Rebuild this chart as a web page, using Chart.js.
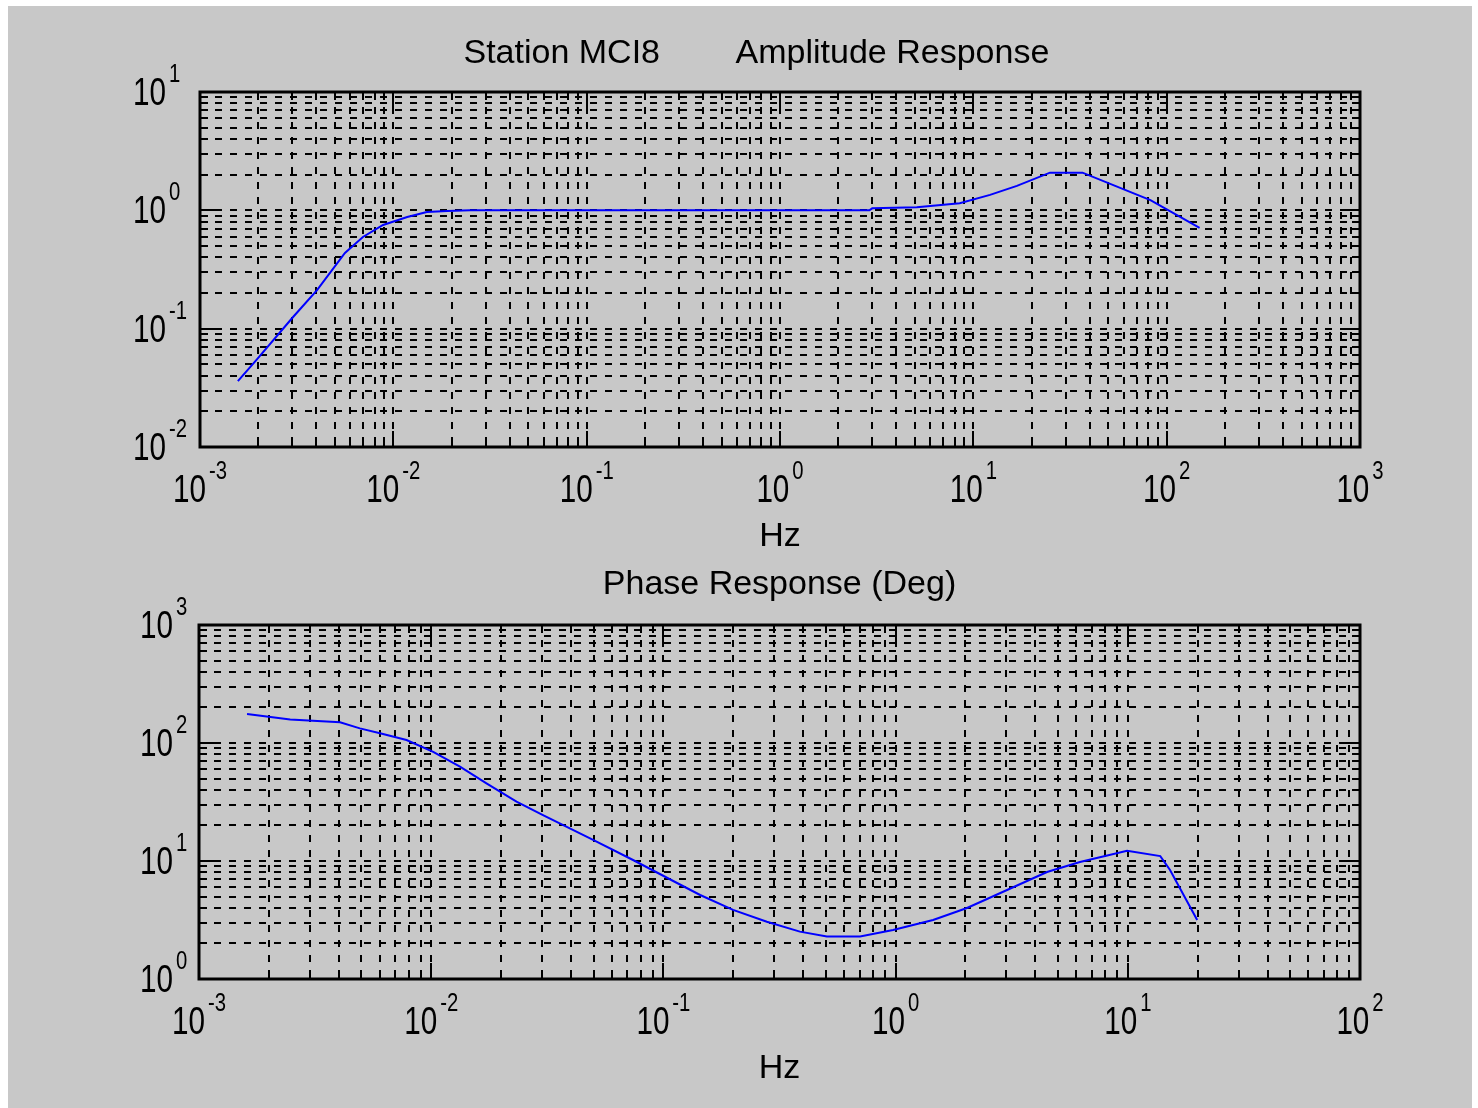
<!DOCTYPE html>
<html>
<head>
<meta charset="utf-8">
<title>Station MCI8 response</title>
<script src="https://cdn.jsdelivr.net/npm/chart.js@4/dist/chart.umd.min.js"></script>
<style>
  html, body { margin: 0; padding: 0; background: #fff; }
  body { position: relative; width: 1478px; height: 1108px; overflow: hidden; }
  #fig { position: absolute; left: 8px; top: 6px; width: 1464px; height: 1102px; background: #c8c8c8; }
  canvas { position: absolute; left: 0; }
  #ampCanvas { top: 0; }
  #phaseCanvas { top: 560px; }
</style>
</head>
<body>
<div id="fig"></div>
<canvas id="ampCanvas" width="1478" height="560"></canvas>
<canvas id="phaseCanvas" width="1478" height="548"></canvas>
<script>
// ── Data ──────────────────────────────────────
const AMP_FREQ  = [0.00157, 0.00197, 0.00303, 0.00403, 0.00562, 0.00696, 0.00885, 0.0118, 0.0149, 0.019,
                   0.025, 0.5, 2.9, 3.0, 5.1, 8.5, 12.2, 16.8, 24.9, 36.7, 82.4, 148];
const AMP_VALUE = [0.036, 0.055, 0.1255, 0.212, 0.436, 0.595, 0.752, 0.879, 0.968, 0.985,
                   1.0, 1.0, 1.0, 1.04, 1.06, 1.15, 1.35, 1.61, 2.08, 2.08, 1.22, 0.71];

const PHASE_FREQ  = [0.00161, 0.00247, 0.00405, 0.00493, 0.00602, 0.00783, 0.0102, 0.0133, 0.0173, 0.0233,
                     0.0303, 0.0498, 0.074, 0.1145, 0.144, 0.1995, 0.279, 0.387, 0.506, 0.703,
                     0.975, 1.45, 2.03, 3.02, 4.49, 6.22, 9.93, 13.8, 15.2, 19.9];
const PHASE_VALUE = [176, 158, 150, 133, 121, 106, 84, 63, 45.5, 31.8,
                     24.5, 15.1, 10.2, 6.51, 5.15, 3.85, 3.06, 2.52, 2.29, 2.29,
                     2.6, 3.16, 4.0, 5.68, 8.07, 9.8, 12.2, 11.0, 8.4, 3.16];

// tick labels are powers of ten, kept as their exponents
const AMP_X_EXP   = ['-3', '-2', '-1', '0', '1', '2', '3'];
const AMP_Y_EXP   = ['-2', '-1', '0', '1'];
const PHASE_X_EXP = ['-3', '-2', '-1', '0', '1', '2'];
const PHASE_Y_EXP = ['0', '1', '2', '3'];

const AMP_TITLE   = 'Station MCI8        Amplitude Response     ';
const PHASE_TITLE = 'Phase Response (Deg)';
const X_LABEL     = 'Hz';

// ── Style ─────────────────────────────────────
const FONT = '"Liberation Sans", Arial, sans-serif';
const TEXT_PX = 34;
const BASE_PX = 38;
const EXP_PX = 26;
const SQUEEZE = 0.78;   // the old bitmap digits are narrow
const LINE_BLUE = '#0000ff';

// ── Helpers ───────────────────────────────────
function toPoints(xs, ys) {
  return xs.map((x, i) => ({ x, y: ys[i] }));
}

// major + minor (2..9) ticks for every decade
function logTicks(exps) {
  const out = [];
  for (let i = 0; i < exps.length - 1; i++) {
    const p = Math.pow(10, Number(exps[i]));
    for (let m = 1; m <= 9; m++) out.push({ value: m * p, major: m === 1 });
  }
  out.push({ value: Math.pow(10, Number(exps[exps.length - 1])), major: true });
  return out;
}

function pow10Width(ctx, exp) {
  ctx.font = `${BASE_PX}px ${FONT}`;
  const wb = ctx.measureText('10').width * SQUEEZE;
  ctx.font = `${EXP_PX}px ${FONT}`;
  const we = ctx.measureText(exp).width * SQUEEZE;
  return { wb, we };
}

function squeezedText(ctx, txt, x, y) {
  ctx.save();
  ctx.translate(x, y);
  ctx.scale(SQUEEZE, 1);
  ctx.fillText(txt, 0, 0);
  ctx.restore();
}

function drawPow10(ctx, exp, left, baseline) {
  const { wb } = pow10Width(ctx, exp);
  ctx.font = `${BASE_PX}px ${FONT}`;
  squeezedText(ctx, '10', left, baseline);
  ctx.font = `${EXP_PX}px ${FONT}`;
  squeezedText(ctx, exp, left + wb + 3, baseline - 23);
}

// ── Box, inner ticks and 10^n labels ──────────
const matlabAxes = {
  id: 'matlabAxes',
  afterDraw(chart, args, opts) {
    const { ctx, chartArea: a } = chart;
    const xs = chart.scales.x;
    const ys = chart.scales.y;
    ctx.save();
    ctx.strokeStyle = '#000';
    ctx.lineWidth = 2;
    ctx.beginPath();
    xs.ticks.forEach(t => {
      const p = Math.round(xs.getPixelForValue(t.value));
      const len = t.major ? 16 : 8;
      ctx.moveTo(p, a.bottom); ctx.lineTo(p, a.bottom - len);
      ctx.moveTo(p, a.top);    ctx.lineTo(p, a.top + len);
    });
    ys.ticks.forEach(t => {
      const p = Math.round(ys.getPixelForValue(t.value));
      const len = t.major ? 16 : 8;
      ctx.moveTo(a.left, p);  ctx.lineTo(a.left + len, p);
      ctx.moveTo(a.right, p); ctx.lineTo(a.right - len, p);
    });
    ctx.stroke();

    ctx.lineWidth = 3;
    ctx.strokeRect(a.left, a.top, a.right - a.left, a.bottom - a.top);

    ctx.fillStyle = '#000';
    ctx.textAlign = 'left';
    ctx.textBaseline = 'alphabetic';
    opts.xExp.forEach(e => {
      const p = xs.getPixelForValue(Math.pow(10, Number(e)));
      const { wb, we } = pow10Width(ctx, e);
      drawPow10(ctx, e, p - (wb + 3 + we) / 2, a.bottom + 55);
    });
    opts.yExp.forEach(e => {
      const p = ys.getPixelForValue(Math.pow(10, Number(e)));
      const { wb } = pow10Width(ctx, e);
      drawPow10(ctx, e, a.left - opts.yGap - wb, p + 13);
    });
    ctx.restore();
  }
};

// ── Chart factory ─────────────────────────────
function makeChart(id, cfg) {
  const textFont = { family: FONT, size: TEXT_PX, weight: 'normal', lineHeight: 1 };
  const axis = (exps, extra) => Object.assign({
    type: 'logarithmic',
    min: Math.pow(10, Number(exps[0])),
    max: Math.pow(10, Number(exps[exps.length - 1])),
    afterBuildTicks: scale => { scale.ticks = logTicks(exps); },
    ticks: { display: false },
    grid: { color: '#000', lineWidth: 2, drawTicks: false },
    border: { display: false, dash: [7, 8] }
  }, extra);

  return new Chart(document.getElementById(id), {
    type: 'line',
    data: {
      datasets: [{
        data: toPoints(cfg.freq, cfg.values),
        borderColor: LINE_BLUE,
        borderWidth: 2,
        pointRadius: 0,
        tension: 0,
        fill: false
      }]
    },
    options: {
      responsive: false,
      animation: false,
      devicePixelRatio: 1,
      layout: { padding: cfg.padding },
      plugins: {
        legend: { display: false },
        tooltip: { enabled: false },
        title: {
          display: true,
          text: cfg.title,
          color: '#000',
          font: textFont,
          padding: cfg.titlePad
        },
        matlabAxes: { xExp: cfg.xExp, yExp: cfg.yExp, yGap: cfg.yGap }
      },
      scales: {
        x: axis(cfg.xExp, {
          title: {
            display: true,
            text: X_LABEL,
            color: '#000',
            font: textFont,
            padding: cfg.xTitlePad
          }
        }),
        y: axis(cfg.yExp, {})
      }
    },
    plugins: [matlabAxes]
  });
}

makeChart('ampCanvas', {
  freq: AMP_FREQ, values: AMP_VALUE,
  xExp: AMP_X_EXP, yExp: AMP_Y_EXP,
  title: AMP_TITLE,
  padding: { left: 200, right: 118, top: 0, bottom: 0 },
  titlePad: { top: 37, bottom: 21 },
  xTitlePad: { top: 73, bottom: 6 },
  yGap: 34
});

makeChart('phaseCanvas', {
  freq: PHASE_FREQ, values: PHASE_VALUE,
  xExp: PHASE_X_EXP, yExp: PHASE_Y_EXP,
  title: PHASE_TITLE,
  padding: { left: 199, right: 118, top: 0, bottom: 0 },
  titlePad: { top: 8, bottom: 23 },
  xTitlePad: { top: 73, bottom: 22 },
  yGap: 26
});
</script>
</body>
</html>
